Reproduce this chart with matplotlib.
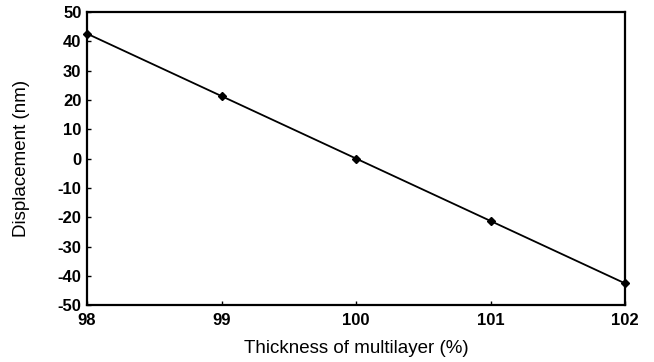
import matplotlib
matplotlib.use("Agg")
import matplotlib.pyplot as plt

# data
thickness = [98, 99, 100, 101, 102]
displacement = [42.6, 21.3, 0.0, -21.3, -42.6]

plt.rcParams['font.family'] = ['Liberation Sans', 'DejaVu Sans']
plt.rcParams['axes.unicode_minus'] = False

fig = plt.figure(figsize=(6.54, 3.62), dpi=100)
ax = fig.add_axes([0.133, 0.157, 0.823, 0.81])

ax.plot(thickness, displacement, color='black', lw=1.3,
        marker='D', markersize=4.5, markerfacecolor='black', clip_on=False)

ax.set_xlim(98, 102)
ax.set_ylim(-50, 50)
ax.set_xticks([98, 99, 100, 101, 102])
ax.set_yticks(range(-50, 51, 10))
ax.tick_params(direction='in', length=3, width=1, labelsize=12)
ax.tick_params(axis='x', pad=6)
ax.tick_params(axis='y', pad=4)
for lab in ax.get_xticklabels() + ax.get_yticklabels():
    lab.set_fontweight('bold')
for s in ax.spines.values():
    s.set_linewidth(1.6)

ax.set_xlabel("Thickness of multilayer (%)", fontsize=13.5, labelpad=8)
ax.set_ylabel("Displacement (nm)", fontsize=13.5, labelpad=20)

fig.savefig("out.png", dpi=100)
